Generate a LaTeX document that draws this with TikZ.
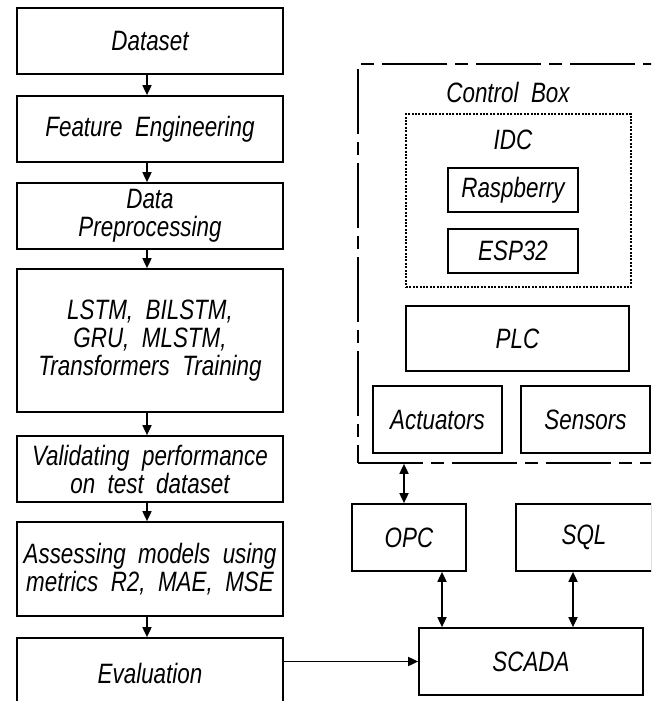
\documentclass[tikz,border=0pt]{standalone}
\usepackage{fontspec}
\setmainfont{Liberation Sans}[ItalicFeatures={FakeStretch=0.8}, UprightFeatures={FakeStretch=0.8}]
\usetikzlibrary{arrows.meta,calc}
\tikzset{
  lbl/.style={font=\fontsize{28}{28}\selectfont\itshape, align=center, inner sep=0pt},
  box/.style={lbl, draw, line width=1.7pt, minimum width=#1},
  conn/.style={line width=1.7pt, -{Triangle[length=10pt,width=9pt]}},
  biconn/.style={line width=1.7pt, {Triangle[length=10pt,width=9pt]}-{Triangle[length=10pt,width=9pt]}},
}
\begin{document}
\begin{tikzpicture}[x=1pt,y=-1pt]
\clip (0,0) rectangle (651,701);
\useasboundingbox (0,0) rectangle (651,701);
% left column
\node[box=266, minimum height=66] (ds) at (150,41) {Dataset};
\node[box=266, minimum height=66] (fe) at (150,129) {Feature \ Engineering};
\node[box=266, minimum height=66] (dp) at (150,216) {Data\\Preprocessing};
\node[box=266, minimum height=143] (tr) at (150,340.5) {LSTM, \ BILSTM,\\GRU, \ MLSTM,\\Transformers \ Training};
\node[box=266, minimum height=66] (va) at (150,469) {Validating \ performance\\on \ test \ dataset};
\node[box=266, minimum height=94] (as) at (150,569) {Assessing \ models \ using\\metrics \ R2, \ MAE, \ MSE};
\node[box=266, minimum height=70] (ev) at (150,673) {Evaluation};
\foreach \a/\b in {ds/fe, fe/dp, dp/tr, tr/va, va/as, as/ev}
  \draw[conn] ([xshift=-3pt]\a.south) -- ([xshift=-3pt]\b.north);
% control box
\node[draw, line width=1.7pt, dash pattern=on 65pt off 8pt on 13pt off 8pt, minimum width=362, minimum height=399, inner sep=0pt] (cb) at (539,263.5) {};
\node[lbl] (cbl) at (508,92) {Control \ Box};
\node[draw, line width=1.5pt, dash pattern=on 2pt off 1.4pt, minimum width=225, minimum height=173, inner sep=0pt] (idc) at (518.5,200.5) {};
\node[lbl] (idcl) at (513,140) {IDC};
\node[box=130, minimum height=44] (ras) at (513,190) {Raspberry};
\node[box=130, minimum height=44] (esp) at (513,251) {ESP32};
\node[box=223, minimum height=65] (plc) at (517.5,338.5) {PLC};
\node[box=129, minimum height=67] (act) at (437.5,419.5) {Actuators};
\node[box=129, minimum height=67] (sen) at (585.5,419.5) {Sensors};
% lower right
\node[box=114, minimum height=67] (opc) at (409,537.5) {OPC};
\node[box=136, minimum height=67] (sql) at (584,537.5) {SQL};
\node[box=224, minimum height=67] (scada) at (531,661.5) {SCADA};
\coordinate (c1) at ([xshift=-5pt]opc.north);
\draw[biconn] (c1 |- cb.south) -- (c1);
\coordinate (c2) at ([xshift=33pt]opc.south);
\draw[biconn] (c2) -- (c2 |- scada.north);
\coordinate (c3) at ([xshift=-11pt]sql.south);
\draw[biconn] (c3) -- (c3 |- scada.north);
\draw[conn] (ev.east |- scada.west) -- (scada.west);
\end{tikzpicture}
\end{document}
